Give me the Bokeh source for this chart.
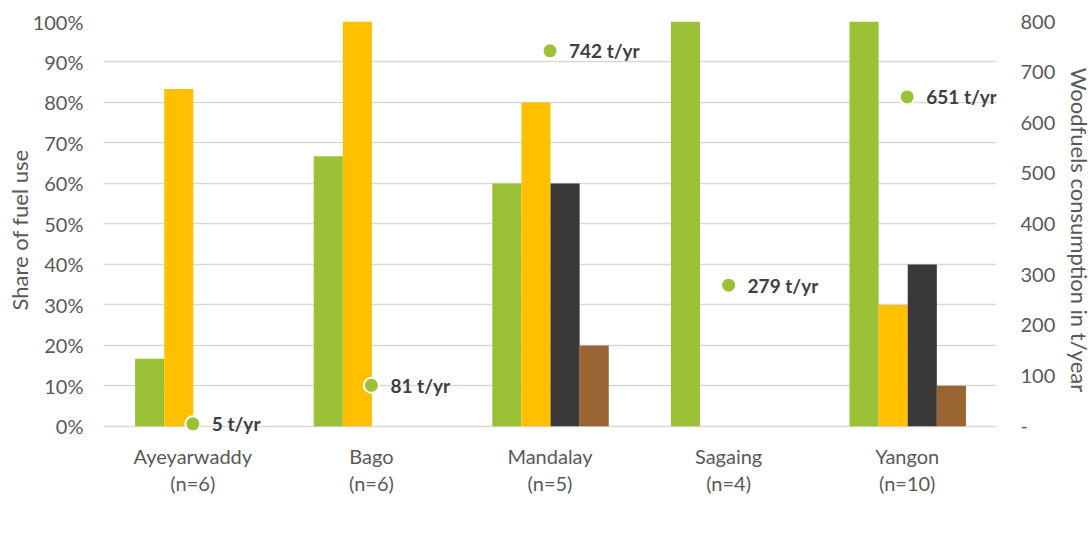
from bokeh.plotting import figure
from bokeh.models import (Range1d, LinearAxis, CategoricalAxis, FixedTicker,
                          NumeralTickFormatter, CustomJSTickFormatter, ColumnDataSource,
                          Legend, LegendItem, FactorRange)
from bokeh.transform import dodge
from bokeh.core.properties import value
from bokeh.embed import file_html
from bokeh.resources import INLINE

# Regions surveyed and sample sizes
regions = ["Ayeyarwaddy", "Bago", "Mandalay", "Sagaing", "Yangon"]
sample_sizes = [6, 6, 5, 4, 10]

# Share of enterprises using each fuel
firewood = [0.167, 0.667, 0.60, 1.00, 1.00]
rice_husk = [0.833, 1.00, 0.80, 0.00, 0.30]
coal = [0.00, 0.00, 0.60, 0.00, 0.40]
sawdust = [0.00, 0.00, 0.20, 0.00, 0.10]

# Firewood consumption per region, t/yr
consumption = [5, 81, 742, 279, 651]

share_ticks = [0.0, 0.1, 0.2, 0.3, 0.4, 0.5, 0.6, 0.7, 0.8, 0.9, 1.0]
consumption_ticks = [0, 100, 200, 300, 400, 500, 600, 700, 800]

FONT = "Lato"
GREY_TEXT = "#595959"
GRID = "#d9d9d9"

colors = {
    "Firewood": "#9bc136",
    "Rice Husk": "#ffc000",
    "Coal": "#3b3838",
    "Sawdust": "#9a6533",
}

src = ColumnDataSource(data=dict(
    region=regions,
    firewood=firewood,
    rice_husk=rice_husk,
    coal=coal,
    sawdust=sawdust,
    consumption=consumption,
    label=[f"{v} t/yr" for v in consumption],
))

# A little room below zero keeps the lowest value label inside the frame
pad = 0.03
p = figure(
    frame_width=893, frame_height=417,
    x_range=FactorRange(*regions, range_padding=0),
    y_range=Range1d(-pad, 1),
    output_backend="svg", toolbar_location=None,
    min_border_left=103, min_border_right=96,
    min_border_top=21, min_border_bottom=97,
)
p.outline_line_color = None
p.background_fill_color = "white"
p.border_fill_color = "white"
p.xgrid.grid_line_color = None
p.ygrid.grid_line_color = GRID
p.ygrid.grid_line_width = 1.3
p.ygrid.ticker = FixedTicker(ticks=share_ticks)

p.extra_y_ranges = {"cons": Range1d(-pad * 800, 800)}

# Grouped bars
bw = 0.163
series = [("firewood", "Firewood", -1.5), ("rice_husk", "Rice Husk", -0.5),
          ("coal", "Coal", 0.5), ("sawdust", "Sawdust", 1.5)]
bar_renderers = {}
for col, name, k in series:
    r = p.vbar(x=dodge("region", k * bw + 0.003, range=p.x_range), top=col, bottom=0,
               width=bw, source=src, fill_color=colors[name], line_color=None)
    bar_renderers[name] = r

# Consumption markers on the secondary axis
dots = p.scatter(x="region", y="consumption", source=src, y_range_name="cons",
                 size=15, fill_color="#9bc136", line_color="white", line_width=2)
p.text(x="region", y="consumption", text="label", source=src, y_range_name="cons",
       x_offset=19, text_baseline="middle", text_align="left",
       text_font=value(FONT), text_font_style="bold", text_font_size="19px",
       text_color="#404040")

# Left axis: share
yl = p.yaxis[0]
yl.ticker = FixedTicker(ticks=share_ticks)
yl.formatter = NumeralTickFormatter(format="0%")
yl.axis_label = "Share of fuel use"

# Right axis: consumption
yr = LinearAxis(y_range_name="cons", ticker=FixedTicker(ticks=consumption_ticks),
                formatter=CustomJSTickFormatter(code="return tick == 0 ? '-' : tick.toFixed(0);"),
                axis_label="Woodfuels consumption in t/year")
p.add_layout(yr, "right")

for ax in (yl, yr):
    ax.axis_line_color = None
    ax.major_tick_line_color = None
    ax.minor_tick_line_color = None
    ax.major_tick_out = 0
    ax.major_tick_in = 0
    ax.major_label_text_font = FONT
    ax.major_label_text_font_size = "20px"
    ax.major_label_text_color = GREY_TEXT
    ax.axis_label_text_font = FONT
    ax.axis_label_text_font_size = "22px"
    ax.axis_label_text_font_style = "normal"
    ax.axis_label_text_color = GREY_TEXT
yl.major_label_standoff = 20
yl.axis_label_standoff = -3
yr.major_label_standoff = 24
yr.axis_label_standoff = 8

# Bottom axes: region name, then sample size underneath
xa = p.xaxis[0]
xn = CategoricalAxis(
    formatter=CustomJSTickFormatter(
        args=dict(names=regions, sizes=sample_sizes),
        code="const i = names.indexOf(tick); return i >= 0 ? '(n=' + sizes[i] + ')' : tick;",
    )
)
p.add_layout(xn, "below")
for ax in (xa, xn):
    ax.axis_line_color = None
    ax.major_tick_line_color = None
    ax.major_tick_out = 0
    ax.major_tick_in = 0
    ax.major_label_text_font = FONT
    ax.major_label_text_font_size = "20px"
    ax.major_label_text_color = GREY_TEXT
xa.major_label_standoff = 5
xn.major_label_standoff = 0

legend = Legend(
    items=[LegendItem(label=name, renderers=[bar_renderers[name]]) for name in colors]
    + [LegendItem(label="Firewood consumption", renderers=[dots])],
    orientation="horizontal",
    location="top_center",
    glyph_width=12, glyph_height=12,
    label_standoff=7, spacing=29,
    padding=0, margin=6,
    border_line_color=None, background_fill_alpha=0,
    label_text_font=FONT, label_text_font_size="20px", label_text_color=GREY_TEXT,
)
p.add_layout(legend, "below")

open("out.html", "w").write(file_html(p, INLINE))
